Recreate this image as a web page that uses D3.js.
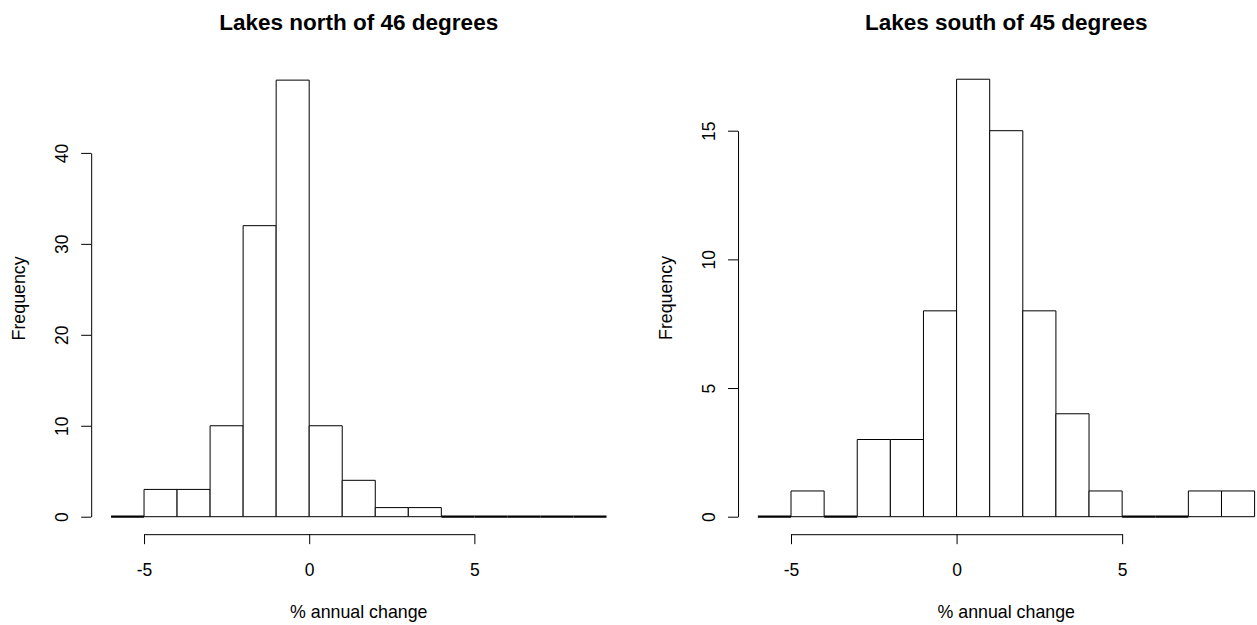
<!DOCTYPE html>
<html>
<head>
<meta charset="utf-8">
<script src="https://cdn.jsdelivr.net/npm/d3@7"></script>
<style>
  body { margin: 0; background: #fff; }
  svg text { font-family: "Liberation Sans", Arial, Helvetica, sans-serif; fill: #000; }
</style>
</head>
<body>
<script>
// bin edges shared by both histograms
var breaks = [-6, -5, -4, -3, -2, -1, 0, 1, 2, 3, 4, 5, 6, 7, 8, 9];
var northCounts = [0, 3, 3, 10, 32, 48, 10, 4, 1, 1, 0, 0, 0, 0, 0];
var southCounts = [0, 1, 0, 3, 3, 8, 17, 15, 8, 4, 1, 0, 0, 1, 1];
var xTicks = [-5, 0, 5];
var northYTicks = [0, 10, 20, 30, 40];
var southYTicks = [0, 5, 10, 15];

var svg = d3.select("body").append("svg")
    .attr("width", 1257)
    .attr("height", 625);

function drawHist(opts) {
  var g = svg.append("g");

  var x = d3.scaleLinear().domain([breaks[0], breaks[breaks.length - 1]]).range(opts.xRange);
  var y = d3.scaleLinear().domain([0, d3.max(opts.yTicks)]).range(opts.yRange);

  // plot region like R: 4% padding on each side
  var xSpan = breaks[breaks.length - 1] - breaks[0];
  var usrX = [breaks[0] - 0.04 * xSpan, breaks[breaks.length - 1] + 0.04 * xSpan];
  var ymax = d3.max(opts.counts);
  var usrY = [-0.04 * ymax, ymax * 1.04];
  var axisX = x(usrX[0]);
  var axisY = y(usrY[0]);

  var bins = opts.counts.map(function(c, i) {
    return { x0: breaks[i], x1: breaks[i + 1], n: c };
  });

  // bars (paths, so empty bins still show as a flat line)
  g.selectAll("path.bar")
    .data(bins)
    .enter()
    .append("path")
    .attr("class", "bar")
    .attr("d", function(d) {
      return "M" + x(d.x0) + "," + y(0) + "V" + y(d.n) + "H" + x(d.x1) + "V" + y(0) + "Z";
    })
    .attr("fill", "white")
    .attr("stroke", "black")
    .attr("stroke-width", function(d) { return d.n === 0 ? 2.2 : 1; });

  // x axis (only spans the ticks, like R)
  var xa = d3.scaleLinear().domain(d3.extent(xTicks)).range([x(xTicks[0]), x(xTicks[xTicks.length - 1])]);
  g.append("g")
    .attr("transform", "translate(0," + axisY + ")")
    .call(d3.axisBottom(xa).tickValues(xTicks).tickSize(10).tickSizeOuter(0).tickPadding(19).tickFormat(String))
    .call(function(s) {
      s.selectAll("text").style("font-size", "17.5px");
      s.selectAll("path, line").attr("stroke", "black");
    });

  // y axis
  g.append("g")
    .attr("transform", "translate(" + axisX + ",0)")
    .call(d3.axisLeft(y).tickValues(opts.yTicks).tickSize(10).tickSizeOuter(0).tickFormat(String))
    .call(function(s) {
      s.selectAll("path, line").attr("stroke", "black");
      s.selectAll("text")
        .attr("x", null)
        .attr("dy", "0.35em")
        .attr("text-anchor", "middle")
        .attr("transform", "translate(-29.5,0) rotate(-90)")
        .style("font-size", "17.5px");
    });

  var cx = x((usrX[0] + usrX[1]) / 2);
  var cy = y((usrY[0] + usrY[1]) / 2);

  // title
  svg.append("text")
    .attr("x", cx)
    .attr("y", 29.5)
    .attr("text-anchor", "middle")
    .style("font-size", "22.5px")
    .style("font-weight", "bold")
    .text(opts.title);

  // x label
  svg.append("text")
    .attr("x", cx)
    .attr("y", 618)
    .attr("text-anchor", "middle")
    .style("font-size", "17.8px")
    .text("% annual change");

  // y label
  svg.append("text")
    .attr("transform", "translate(" + (axisX - 66.5) + "," + cy + ") rotate(-90)")
    .attr("text-anchor", "middle")
    .style("font-size", "17.8px")
    .text("Frequency");
}

drawHist({
  counts: northCounts,
  yTicks: northYTicks,
  xRange: [111, 606.5],
  yRange: [516.7, 152.9],
  title: "Lakes north of 46 degrees"
});

drawHist({
  counts: southCounts,
  yTicks: southYTicks,
  xRange: [757.9, 1254.6],
  yRange: [516.7, 130.7],
  title: "Lakes south of 45 degrees"
});
</script>
</body>
</html>
